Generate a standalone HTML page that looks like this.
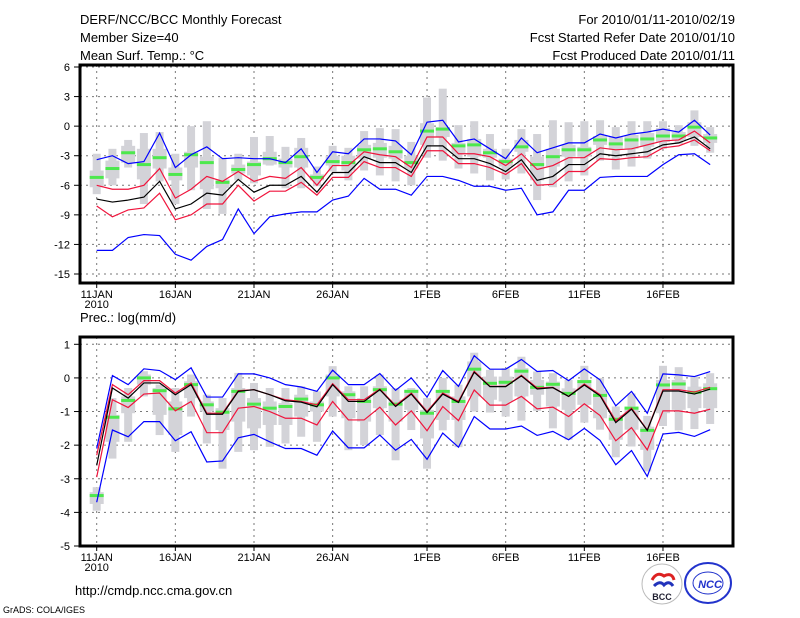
<!DOCTYPE html>
<html><head><meta charset="utf-8"><style>
body{margin:0;background:#fff}
svg{display:block;font-family:"Liberation Sans",sans-serif}
</style></head><body>
<svg id="c" width="800" height="618" viewBox="0 0 800 618">
<g font-size="13" fill="#000">
<text x="80" y="24">DERF/NCC/BCC Monthly Forecast</text>
<text x="80" y="42">Member Size=40</text>
<text x="80" y="60">Mean Surf. Temp.: °C</text>
<text x="735" y="24" text-anchor="end">For 2010/01/11-2010/02/19</text>
<text x="735" y="42" text-anchor="end">Fcst Started Refer Date 2010/01/10</text>
<text x="735" y="60" text-anchor="end">Fcst Produced Date 2010/01/11</text>
<text x="80" y="322">Prec.: log(mm/d)</text>
<text x="75" y="595">http://cmdp.ncc.cma.gov.cn</text>
<text x="3" y="613" font-size="9">GrADS: COLA/IGES</text>
</g>
<g>
<circle cx="662" cy="584" r="20" fill="#fff" stroke="#bbb"/>
<path d="M652 580 q5 -9 12 -4 q8 -4 10 4" fill="none" stroke="#d22" stroke-width="3"/>
<path d="M654 586 q6 -6 10 -1 q5 -5 9 1" fill="none" stroke="#23b" stroke-width="3"/>
<text x="662" y="600" font-size="9" font-weight="bold" text-anchor="middle" fill="#223">BCC</text>
</g>
<g>
<ellipse cx="708" cy="583" rx="23" ry="20" fill="#fff" stroke="#23c" stroke-width="2"/>
<ellipse cx="708" cy="583" rx="15" ry="11" fill="none" stroke="#23c"/>
<text x="710" y="588" font-size="11" font-weight="bold" font-style="italic" text-anchor="middle" fill="#23c">NCC</text>
</g>
</svg>
<script>
const days=['11JAN','','','','','16JAN','','','','','21JAN','','','','','26JAN','','','','','','1FEB','','','','','6FEB','','','','','11FEB','','','','','16FEB','','',''];
// temperature
const tBlueHi=[-3.4,-3.0,-3.8,-3.6,-0.7,-4.2,-2.9,-2.1,-3.3,-3.2,-3.3,-3.3,-3.7,-2.3,-4.7,-2.6,-2.8,-1.3,-1.3,-1.5,-2.9,0.4,0.6,-1.6,-1.3,-2.3,-3.3,-1.2,-2.7,-2.2,-1.7,-1.7,-0.8,-1.2,-0.8,-0.6,-0.3,-0.6,0.6,-0.9];
const tBlueLo=[-12.6,-12.6,-11.3,-11.0,-11.1,-13.0,-13.6,-12.2,-11.5,-8.4,-10.9,-9.2,-8.9,-8.7,-8.7,-7.5,-7.1,-5.3,-6.4,-6.4,-7.0,-5.1,-5.1,-5.5,-6.1,-6.1,-6.5,-6.3,-9.0,-8.7,-6.5,-6.5,-5.2,-5.1,-5.1,-5.1,-3.9,-2.9,-2.8,-3.9];
const tBlack=[-7.4,-7.7,-7.5,-7.2,-5.6,-8.4,-7.9,-6.8,-7.0,-5.4,-6.7,-6.0,-6.0,-5.1,-6.7,-4.7,-4.7,-3.1,-3.7,-3.7,-4.7,-2.0,-2.0,-3.3,-3.3,-3.8,-4.6,-3.4,-5.5,-5.1,-3.9,-3.9,-2.8,-3.0,-2.8,-2.6,-1.9,-1.7,-1.1,-2.3];
const tRedHi=[-6.0,-6.4,-6.4,-6.0,-4.3,-7.3,-6.4,-5.1,-5.6,-4.6,-5.6,-5.1,-5.3,-4.2,-6.0,-4.0,-4.0,-2.6,-2.9,-3.1,-4.2,-1.1,-1.1,-2.8,-2.8,-3.1,-4.0,-2.8,-4.4,-4.0,-3.2,-3.2,-2.2,-2.4,-2.3,-1.9,-1.5,-1.4,-0.5,-1.7];
const tRedLo=[-8.1,-9.2,-8.5,-8.3,-6.8,-9.5,-9.0,-7.9,-7.9,-6.0,-7.6,-6.6,-6.6,-5.7,-7.0,-5.2,-5.2,-3.6,-4.2,-4.2,-5.1,-2.5,-2.5,-3.8,-3.8,-4.2,-4.9,-3.8,-6.0,-5.9,-4.6,-4.6,-3.3,-3.4,-3.2,-3.1,-2.2,-2.0,-1.4,-2.5];
const tGreen=[-5.2,-4.3,-2.7,-3.9,-3.2,-4.9,-2.9,-3.7,-5.7,-4.4,-3.9,-3.3,-3.7,-3.1,-5.2,-3.6,-3.7,-2.4,-2.3,-2.6,-3.7,-0.5,-0.3,-2.0,-1.9,-2.7,-3.6,-2.1,-3.9,-3.1,-2.4,-2.4,-1.4,-1.8,-1.4,-1.3,-1.0,-1.0,-0.1,-1.2];
const tMax=[-2.8,-2.3,-1.4,-0.7,-0.6,-2.8,0.0,0.5,-3.2,-2.8,-1.1,-1.0,-2.1,-1.2,-4.1,-2.0,-2.2,-0.5,-0.2,-0.3,-1.6,2.9,3.8,0.1,0.5,-0.8,-2.3,-0.3,-0.8,0.6,0.4,0.5,0.6,-0.1,0.5,0.5,0.5,0.1,1.6,-0.1];
const tMin=[-6.9,-6.0,-4.2,-7.9,-5.6,-7.9,-6.5,-8.4,-8.9,-5.5,-5.8,-4.0,-6.3,-6.3,-6.1,-4.6,-5.5,-4.5,-5.0,-5.6,-6.0,-3.2,-3.5,-4.3,-4.8,-5.5,-5.4,-4.8,-7.5,-6.2,-5.6,-5.0,-3.5,-4.4,-4.1,-3.3,-2.3,-1.8,-2.0,-2.7];
const tQ3=[-4.5,-3.5,-2.0,-2.3,-2.3,-4.2,-2.6,-3.1,-5.4,-3.9,-3.6,-2.6,-3.3,-2.2,-4.9,-3.0,-3.0,-1.9,-1.7,-2.0,-3.0,0.3,-0.1,-1.7,-1.3,-2.3,-3.3,-1.4,-3.1,-2.3,-1.9,-2.1,-1.0,-1.1,-0.9,-0.7,-0.2,-0.6,0.4,-0.8];
const tQ1=[-6.2,-5.3,-3.7,-5.4,-4.3,-5.5,-4.2,-6.4,-6.3,-4.8,-5.0,-3.9,-4.2,-4.2,-5.5,-4.0,-4.5,-3.3,-3.2,-3.3,-4.3,-1.9,-1.1,-2.8,-3.1,-3.2,-4.1,-2.6,-5.5,-4.1,-3.1,-3.1,-1.9,-2.4,-2.3,-2.1,-1.6,-1.4,-1.1,-1.7];
const tTicks=[6,3,0,-3,-6,-9,-12,-15];
// precipitation
const pBlueHi=[-2.1,0.07,-0.2,0.27,0.22,-0.05,0.3,-0.57,-0.57,0.12,0.12,0,-0.2,-0.27,-0.4,0.23,-0.2,-0.2,0.13,-0.37,0,-0.57,0.22,-0.25,0.66,0.26,0.26,0.55,0.19,0.22,-0.08,0.27,-0.06,-0.83,-0.4,-1.05,0.12,0.09,0.04,0.19];
const pBlueLo=[-3.7,-1.55,-1.75,-1.3,-1.3,-1.87,-1.6,-2.5,-2.47,-1.78,-1.68,-1.9,-2.1,-2.1,-2.3,-1.58,-2.08,-2.08,-1.7,-2.15,-1.83,-2.42,-1.64,-2.06,-1.15,-1.52,-1.52,-1.43,-1.71,-1.59,-1.84,-1.5,-1.86,-2.58,-2.16,-2.93,-1.67,-1.62,-1.74,-1.54];
const pBlack=[-2.6,-0.3,-0.6,-0.15,-0.15,-0.5,-0.2,-1.08,-1.08,-0.4,-0.35,-0.5,-0.68,-0.72,-0.86,-0.2,-0.7,-0.7,-0.35,-0.85,-0.48,-1.03,-0.48,-0.73,0.17,-0.26,-0.26,0.06,-0.33,-0.29,-0.55,-0.21,-0.53,-1.33,-0.93,-1.56,-0.39,-0.39,-0.48,-0.33];
const pRedHi=[-2.3,-0.2,-0.5,-0.08,-0.08,-0.45,-0.15,-1.05,-1.05,-0.38,-0.35,-0.5,-0.65,-0.7,-0.8,-0.17,-0.65,-0.65,-0.33,-0.82,-0.45,-1.0,-0.45,-0.7,0.2,-0.25,-0.25,0.08,-0.3,-0.28,-0.55,-0.18,-0.5,-1.28,-0.9,-1.55,-0.35,-0.35,-0.42,-0.28];
const pRedLo=[-2.95,-0.65,-0.88,-0.48,-0.45,-0.98,-0.7,-1.63,-1.63,-0.9,-0.85,-1.0,-1.2,-1.2,-1.4,-0.7,-1.25,-1.25,-0.87,-1.4,-0.98,-1.57,-0.85,-1.27,-0.36,-0.81,-0.81,-0.55,-0.92,-0.87,-1.15,-0.77,-1.12,-1.87,-1.48,-2.14,-0.98,-0.98,-1.05,-0.93];
const pGreen=[-3.5,-1.17,-0.67,0.0,-0.38,-0.92,-0.2,-0.8,-1.02,-0.4,-0.78,-0.9,-0.85,-0.63,-0.8,0.0,-0.5,-0.7,-0.35,-0.78,-0.4,-1.05,-0.4,-0.7,0.26,-0.16,-0.13,0.2,-0.28,-0.19,-0.46,-0.11,-0.52,-1.23,-0.9,-1.56,-0.21,-0.18,-0.43,-0.32];
const pMax=[-3.25,-0.6,-0.3,0.2,-0.2,-0.3,0.1,-0.5,-0.6,0.15,-0.15,-0.3,-0.3,-0.25,-0.4,0.35,-0.25,-0.25,0.1,-0.3,-0.3,-0.6,0,-0.2,0.75,0.24,0.29,0.63,0.19,0.14,-0.06,0.36,0,-0.85,-0.46,-1.13,0.36,0.32,0.04,0.14];
const pMin=[-3.95,-2.4,-1.9,-0.55,-1.7,-2.2,-1.15,-1.95,-2.7,-2.2,-2.15,-2.05,-1.95,-1.75,-1.9,-1.15,-2.15,-2.0,-1.7,-2.45,-1.55,-2.7,-1.56,-2.06,-1.0,-1.03,-1.15,-1.27,-0.98,-1.5,-1.84,-1.33,-1.54,-2.36,-2.04,-2.78,-1.43,-1.56,-1.52,-1.37];
const pQ3=[-3.4,-1.1,-0.55,0.1,-0.3,-0.7,-0.1,-0.7,-0.9,-0.3,-0.6,-0.7,-0.75,-0.5,-0.7,0.1,-0.4,-0.6,-0.25,-0.65,-0.35,-0.95,-0.36,-0.55,0.49,0.04,0.04,0.29,-0.06,-0.11,-0.31,-0.06,-0.36,-1.1,-0.85,-1.45,-0.06,-0.06,-0.26,-0.16];
const pQ1=[-3.75,-1.9,-1.05,-0.2,-1.1,-1.7,-0.6,-1.0,-1.55,-1.3,-1.5,-1.4,-1.4,-1.15,-1.0,-0.55,-1.2,-1.3,-0.9,-1.3,-0.95,-1.8,-1.25,-1.25,-0.55,-0.65,-0.7,-0.55,-0.5,-0.85,-0.95,-0.8,-1.2,-1.84,-1.54,-2.14,-1.05,-0.95,-0.9,-0.9];
const pTicks=[1,0,-1,-2,-3,-4,-5];

const NS='http://www.w3.org/2000/svg';
const svg=document.getElementById('c');
function mk(tag,attrs,parent){const e=document.createElementNS(NS,tag);for(const k in attrs)e.setAttribute(k,attrs[k]);(parent||svg).appendChild(e);return e;}
const x0=96.7,dx=15.73;
function xs(i){return x0+i*dx;}
function panel(name,top,bot,vTop,yTop,vBot,yBot,ticks,blueHi,blueLo,black,redHi,redLo,green,mx,mn,q3,q1){
  const g=mk('g',{});
  
  
  const ys=v=>yTop+(vTop-v)*(yBot-yTop)/(vTop-vBot);
  // grid
  ticks.forEach(t=>{const l=mk('line',{x1:80,x2:733,y1:ys(t),y2:ys(t),stroke:'#777','stroke-dasharray':'2,4','stroke-width':1},g);
    
    
    const tl=mk('line',{x1:74,x2:80,y1:ys(t),y2:ys(t),stroke:'#000'},g);
    
    
    const tx=mk('text',{x:70,y:ys(t)+4,'text-anchor':'end','font-size':11},g);tx.textContent=t;
    
    });
  days.forEach((d,i)=>{if(!d)return;const l=mk('line',{x1:xs(i),x2:xs(i),y1:top,y2:bot,stroke:'#777','stroke-dasharray':'2,4'},g);
    
    
    const tl=mk('line',{x1:xs(i),x2:xs(i),y1:bot,y2:bot+5,stroke:'#000'},g);
    
    
    const tx=mk('text',{x:xs(i),y:bot+15,'text-anchor':'middle','font-size':11},g);tx.textContent=d;
    
    });
  const yr=mk('text',{x:xs(0),y:bot+25,'text-anchor':'middle','font-size':11},g);yr.textContent='2010';
  
  
  // gray boxes
  mx.forEach((v,i)=>{const r=mk('rect',{x:xs(i)-4,y:ys(v),width:8,height:ys(mn[i])-ys(v),fill:'#d3d3d8'},g);
    
    
    const b=mk('rect',{x:xs(i)-7,y:ys(q3[i]),width:14,height:ys(q1[i])-ys(q3[i]),fill:'#d3d3d8'},g);
    
    });
  green.forEach((v,i)=>{const r=mk('rect',{x:xs(i)-7,y:ys(v)-1.5,width:14,height:3,fill:'#4de84d'},g);
    
    });
  const line=(arr,col,nm)=>{const p=mk('polyline',{points:arr.map((v,i)=>xs(i)+','+ys(v)).join(' '),fill:'none',stroke:col,'stroke-width':1.2},g);
    
    };
  line(blueHi,'#0000ff','blue-upper-line');line(blueLo,'#0000ff','blue-lower-line');
  line(redHi,'#f0143c','red-upper-line');line(redLo,'#f0143c','red-lower-line');
  line(black,'#000','ensemble-mean-line');
  const f=mk('rect',{x:80,y:top,width:653,height:bot-top,fill:'none',stroke:'#000','stroke-width':3},g);
  
  
}
panel('temperature-panel',65,283,6,67,-15,274,tTicks,tBlueHi,tBlueLo,tBlack,tRedHi,tRedLo,tGreen,tMax,tMin,tQ3,tQ1);
panel('precipitation-panel',337,546,1,344.3,-5,546,pTicks,pBlueHi,pBlueLo,pBlack,pRedHi,pRedLo,pGreen,pMax,pMin,pQ3,pQ1);
</script>
</body></html>
